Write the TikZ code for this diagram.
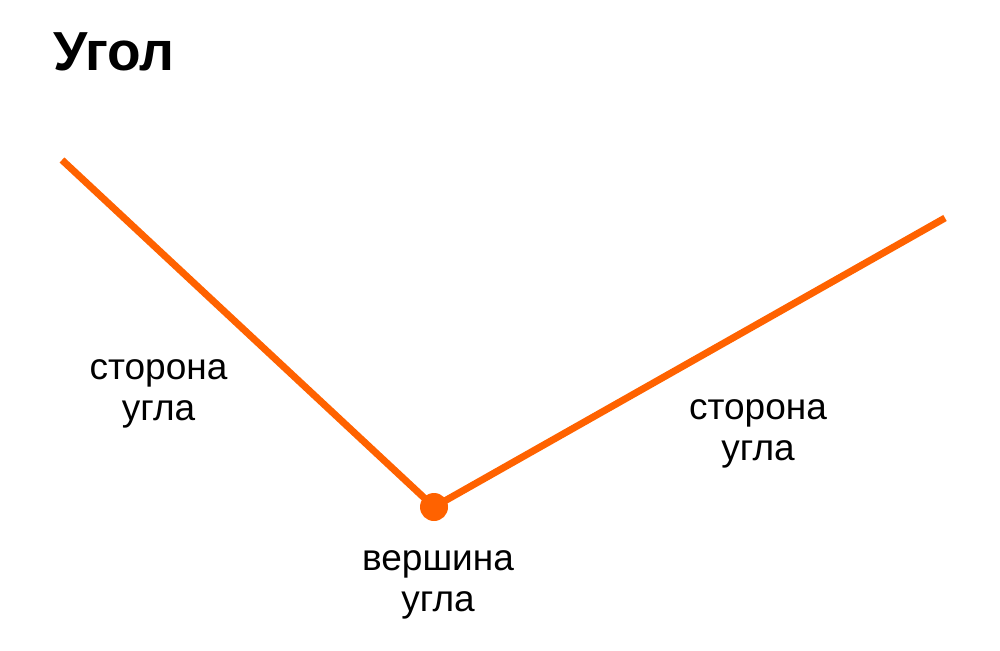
\documentclass[tikz,border=0pt]{standalone}
\usepackage{fontspec}
\setmainfont{Liberation Sans}
\definecolor{orng}{HTML}{FF6200}
\begin{document}
\begin{tikzpicture}[x=1pt,y=-1pt,
  side/.style={draw=orng,line width=7pt},
  lbl/.style={font=\fontsize{37}{41}\selectfont,align=center,inner sep=0pt,text=black}]
\useasboundingbox (0,0) rectangle (1000,650);
\node[anchor=base west,inner sep=0pt,font=\fontsize{55}{55}\selectfont\bfseries] (title) at (53,71) {Угол};
\coordinate (a) at (62,160);
\coordinate (v) at (434,507);
\coordinate (b) at (945,218);
\draw[side] (a) -- (v) -- (b);
\fill[orng] (v) circle (14);
\node[lbl] (l1) at (158.5,394) {сторона\\угла};
\node[lbl] (l2) at (758,434) {сторона\\угла};
\node[lbl] (l3) at (438,585) {вершина\\угла};
\end{tikzpicture}
\end{document}
